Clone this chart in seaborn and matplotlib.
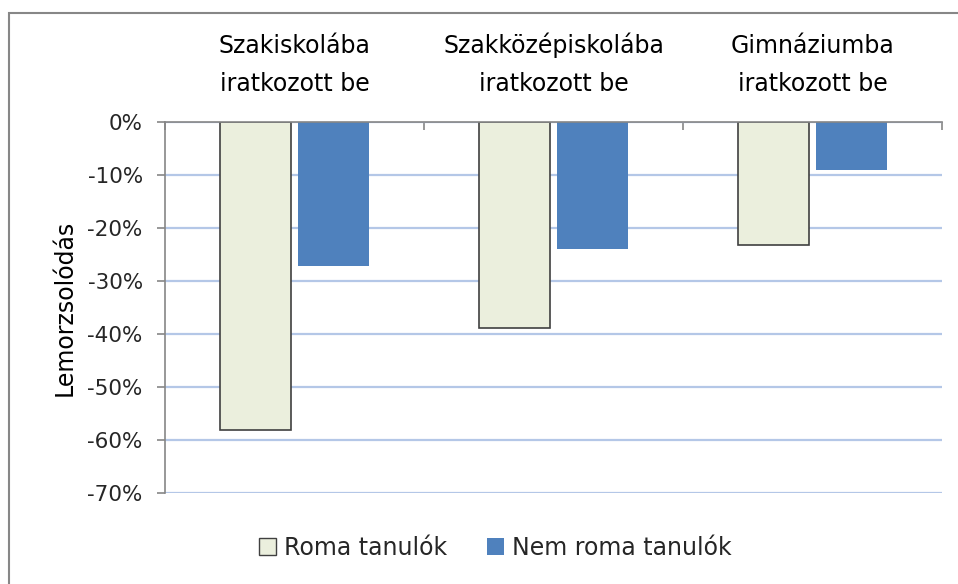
import matplotlib
matplotlib.use("Agg")
import matplotlib.pyplot as plt
import matplotlib.patches as mpatches
import matplotlib.ticker as mticker
import seaborn as sns
import pandas as pd

categories = ["Szakiskolába\niratkozott be", "Szakközépiskolába\niratkozott be", "Gimnáziumba\niratkozott be"]
series = ["Roma tanulók", "Nem roma tanulók"]
roma = [-0.582, -0.389, -0.232]
nem_roma = [-0.271, -0.240, -0.090]
yticks = [0, -0.1, -0.2, -0.3, -0.4, -0.5, -0.6, -0.7]

df = pd.DataFrame({
    "cat": categories * 2,
    "series": [series[0]] * 3 + [series[1]] * 3,
    "value": roma + nem_roma,
})

sns.set_theme(style="white")
plt.rcParams["font.family"] = ["DejaVu Sans"]
FS = 15.5
FL = 17

fig = plt.figure(figsize=(9.58, 5.84), dpi=100)
ax = fig.add_axes([165 / 958, 1 - 493 / 584, (942 - 165) / 958, (493 - 122) / 584])

palette = {series[0]: "#ebefdd", series[1]: "#4f81bd"}
sns.barplot(data=df, x="cat", y="value", hue="series", order=categories,
            hue_order=series, palette=palette, width=0.602, gap=0.077,
            ax=ax, legend=False, saturation=1, errorbar=None)

# bar edges
for p in ax.patches:
    fc = p.get_facecolor()
    if abs(fc[0] - 0xeb / 255) < 0.02:
        p.set_edgecolor("#404040")
        p.set_linewidth(1.2)
    else:
        p.set_linewidth(0)

ax.set_xlim(-0.5, 2.5)
ax.set_ylim(-0.7, 0)
ax.set_yticks(yticks)
ax.yaxis.set_major_formatter(mticker.FuncFormatter(lambda v, _: f"{v*100:.0f}%"))
ax.yaxis.grid(True, color="#b4c7e7", linewidth=1.6)
ax.set_axisbelow(True)

ax.xaxis.tick_top()
ax.xaxis.set_label_position("top")
ax.set_xlabel("")
ax.set_ylabel("Lemorzsolódás", fontsize=FL, color="#000000", labelpad=8)
ax.tick_params(axis="x", which="major", length=0, pad=19, labelsize=FL, labelcolor="#000000")
ax.set_xticks([-0.5, 0.5, 1.5, 2.5], minor=True)
ax.tick_params(axis="x", which="minor", top=True, bottom=False, direction="in",
               length=6, width=1.2, color="#868686")
ax.tick_params(axis="y", left=True, direction="out", length=6, width=1.2,
               color="#868686", labelsize=FS, labelcolor="#262626", pad=10)
for lab in ax.get_xticklabels():
    lab.set_linespacing(1.7)

for s in ["right", "bottom"]:
    ax.spines[s].set_visible(False)
for s in ["top", "left"]:
    ax.spines[s].set_color("#868686")
    ax.spines[s].set_linewidth(1.2)
ax.spines["top"].set_zorder(5)

handles = [mpatches.Patch(facecolor=palette[series[0]], edgecolor="#404040", linewidth=1.0, label=series[0]),
           mpatches.Patch(facecolor=palette[series[1]], edgecolor=palette[series[1]], linewidth=0, label=series[1])]
fig.legend(handles=handles, loc="center", bbox_to_anchor=(495 / 958, 1 - 548 / 584), ncol=2,
           frameon=False, fontsize=FL, handlelength=0.72, handleheight=0.72,
           handletextpad=0.34, columnspacing=1.7)

border = mpatches.Rectangle((9 / 958, -0.05), 1.1, 1 - 13 / 584 + 0.05, transform=fig.transFigure,
                            fill=False, edgecolor="#878787", linewidth=1.5, clip_on=False)
fig.patches.append(border)

fig.savefig("out.png", dpi=100)
